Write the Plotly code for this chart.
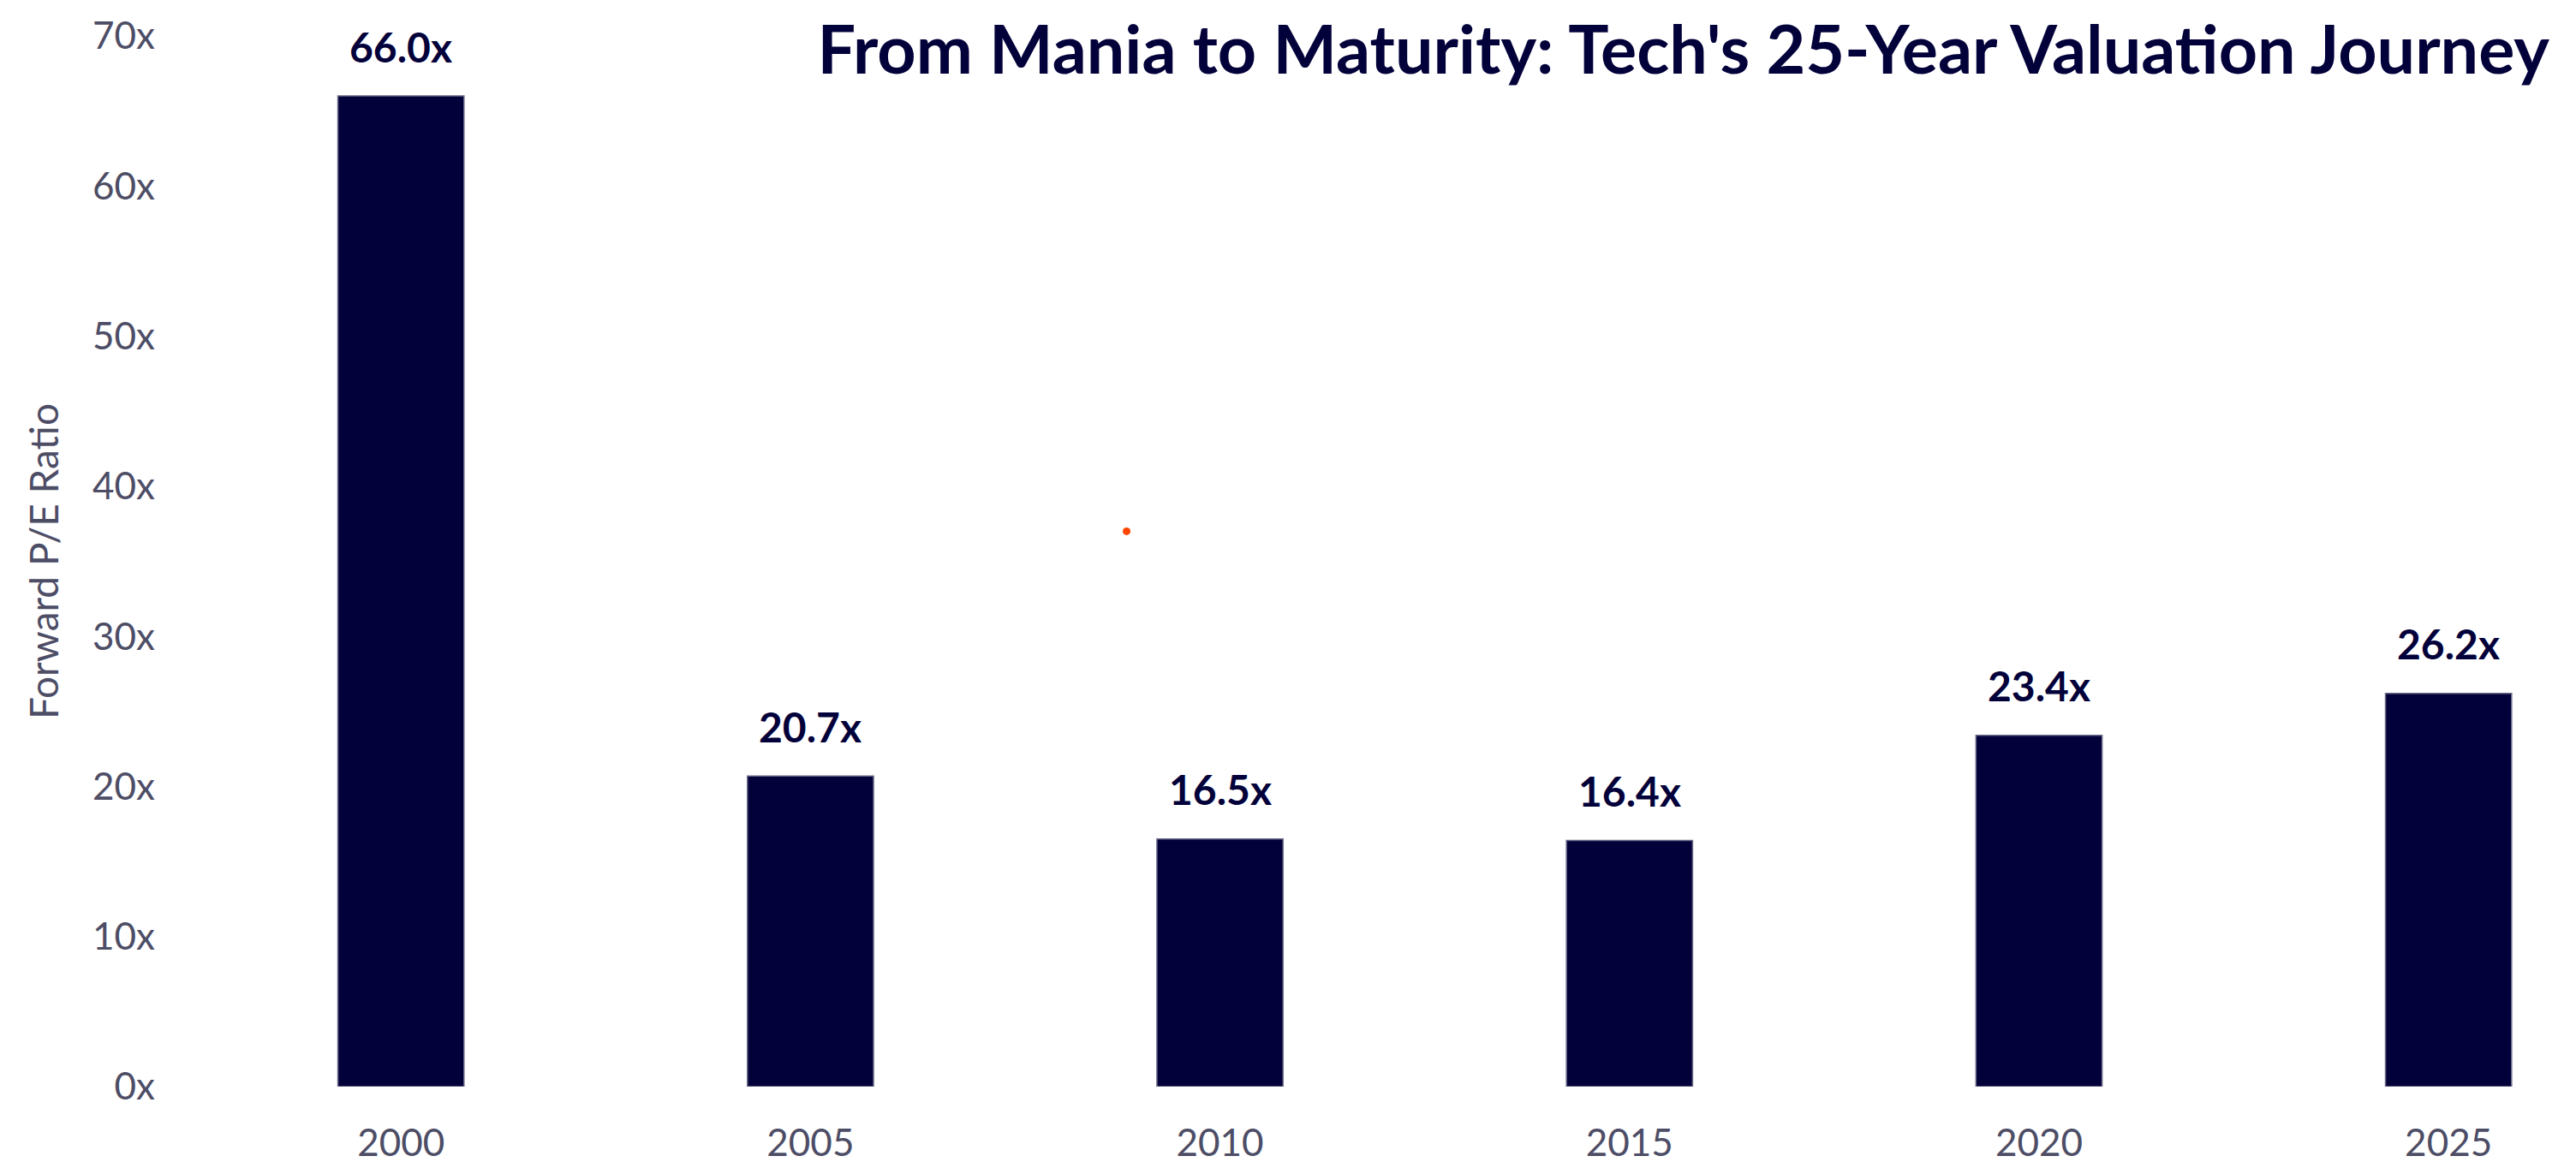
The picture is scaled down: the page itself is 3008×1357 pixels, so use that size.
import plotly.graph_objects as go

years = [2000, 2005, 2010, 2015, 2020, 2025]
pe_ratios = [66.0, 20.7, 16.5, 16.4, 23.4, 26.2]
bar_labels = [f"{v:.1f}x" for v in pe_ratios]
y_ticks = [0, 10, 20, 30, 40, 50, 60, 70]
y_tick_labels = [f"{t}x" for t in y_ticks]
stray_x = [2008.86]
stray_y = [37.0]

NAVY = "#03013a"
GREY = "#4d4d66"
FONT = "Lato"

fig = go.Figure()
fig.add_trace(go.Bar(
    x=years, y=pe_ratios, width=1.54,
    marker=dict(color=NAVY, line=dict(color="#6a6a88", width=1.5)),
    showlegend=False, hoverinfo="x+y",
))
fig.add_trace(go.Scatter(
    x=stray_x, y=stray_y, mode="markers",
    marker=dict(color="#ff4500", size=9),
    showlegend=False, hoverinfo="skip",
))

for x, y, t in zip(years, pe_ratios, bar_labels):
    fig.add_annotation(x=x, y=y, text=f"<b>{t}</b>", showarrow=False,
                       yanchor="middle", yshift=58,
                       font=dict(family=FONT, size=48, color=NAVY))

fig.update_layout(
    width=3008, height=1357,
    paper_bgcolor="white", plot_bgcolor="white",
    margin=dict(l=190, r=28, t=34, b=96),
    title=dict(text="<b>From Mania to Maturity: Tech's 25-Year Valuation Journey</b>",
               xref="container", x=0.987, xanchor="right",
               yref="container", y=1 - 50 / 1357, yanchor="middle",
               font=dict(family=FONT, size=79, color=NAVY)),
    xaxis=dict(range=[1997.175, 2026.347], tickvals=years,
               ticktext=[str(y) for y in years],
               showgrid=False, zeroline=False, showline=False,
               automargin=False, ticklabelstandoff=36,
               tickfont=dict(family=FONT, size=44, color=GREY)),
    yaxis=dict(range=[0, 70], tickvals=y_ticks, ticktext=y_tick_labels,
               showgrid=False, zeroline=False, showline=False,
               automargin=False, ticklabelstandoff=16,
               title=dict(text="Forward P/E Ratio", standoff=24,
                          font=dict(family=FONT, size=46, color=GREY)),
               tickfont=dict(family=FONT, size=44, color=GREY)),
    font=dict(family=FONT),
)

fig.write_html("out.html")
